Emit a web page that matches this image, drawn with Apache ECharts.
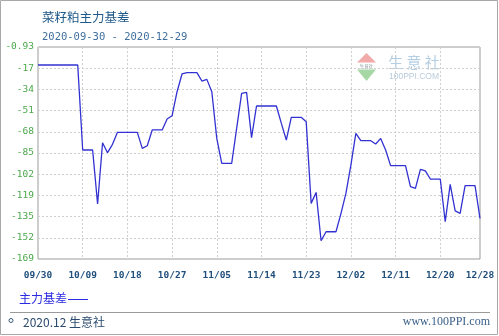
<!DOCTYPE html>
<html>
<head>
<meta charset="utf-8">
<script src="https://cdn.jsdelivr.net/npm/echarts@6/dist/echarts.min.js"></script>
<style>
html,body{margin:0;padding:0;background:#fff;}
#c{width:499px;height:336px;}
</style>
</head>
<body>
<div id="c"></div>
<script>
// ---- data ----
var titleText = '菜籽粕主力基差';
var subText = '2020-09-30 - 2020-12-29';
var seriesName = '主力基差';
// calendar day categories of the x axis (09/30 .. 12/28)
var startDay = '2020-09-30';
var endDay = '2020-12-28';
// tick labels of the y axis, bottom to top
var yLabels = ['-169', '-152', '-135', '-119', '-102', '-85', '-68', '-51', '-34', '-17', '-0.93'];
var yMin = -169.0;
var yMax = -0.93;
// dates of the line's vertices and their values
var pointDates = ['09/30','10/08','10/09','10/11','10/12','10/13','10/14','10/15','10/16','10/20',
  '10/21','10/22','10/23','10/25','10/26','10/27','10/28','10/29','10/30','11/01',
  '11/02','11/03','11/04','11/05','11/06','11/08','11/09','11/10','11/11','11/12',
  '11/13','11/17','11/18','11/19','11/20','11/22','11/23','11/24','11/25','11/26',
  '11/27','11/29','11/30','12/01','12/02','12/03','12/04','12/06','12/07','12/08',
  '12/09','12/10','12/13','12/14','12/15','12/16','12/17','12/18','12/20','12/21',
  '12/22','12/23','12/24','12/25','12/27','12/28'];
var pointValues = [-15.2,-15.2,-82.6,-82.6,-125.4,-76.8,-84.7,-78.1,-68.6,-68.6,
  -81.3,-79.2,-66.7,-66.7,-58.0,-55.4,-36.4,-22.3,-21.3,-21.3,
  -27.9,-26.6,-36.4,-73.4,-93.2,-93.2,-65.5,-37.7,-36.9,-72.8,
  -47.7,-47.7,-61.5,-74.7,-56.7,-56.7,-60.1,-124.9,-116.2,-154.5,
  -147.4,-147.4,-133.0,-117.0,-94.5,-69.4,-75.2,-75.2,-77.8,-73.4,
  -82.6,-95.0,-95.0,-111.7,-113.0,-98.0,-99.2,-105.6,-105.6,-139.4,
  -109.9,-130.9,-132.8,-110.9,-110.9,-136.8];

// ---- build categories ----
function pad(n){return (n<10?'0':'')+n;}
var days = [];
(function(){
  var d = new Date(startDay + 'T00:00:00Z');
  var e = new Date(endDay + 'T00:00:00Z');
  while (d <= e) {
    days.push(pad(d.getUTCMonth()+1) + '/' + pad(d.getUTCDate()));
    d = new Date(d.getTime() + 86400000);
  }
})();
var lastIdx = days.length - 1;
var yInterval = (yMax - yMin) / (yLabels.length - 1);

var chart = echarts.init(document.getElementById('c'), null, {renderer:'canvas'});
var option = {
  backgroundColor: '#fff',
  animation: false,
  grid: {left: 38, right: 19, top: 47, bottom: 77, show: true, borderColor: '#9a9a9a', borderWidth: 1, containLabel: false},
  title: [
    {text: titleText, left: 37, top: 6, textStyle: {fontFamily: 'Noto Sans CJK SC', fontSize: 12.5, fontWeight: 'normal', color: '#1f5a8a'}},
    {text: subText, left: 37, top: 27, textStyle: {fontFamily: 'DejaVu Sans Mono', fontSize: 10.5, fontWeight: 'normal', color: '#3f6f9c'}}
  ],
  xAxis: {
    type: 'category',
    data: days,
    boundaryGap: false,
    axisLine: {show: false},
    axisTick: {show: false},
    axisLabel: {
      interval: function(i){ return i % 9 === 0 || i === lastIdx; },
      margin: 12,
      fontFamily: 'DejaVu Sans Mono',
      fontSize: 9.5,
      fontWeight: 'bold',
      color: '#1f4f7c',
      showMaxLabel: true
    },
    splitLine: {
      show: true,
      interval: function(i){ return i % 9 === 0 || i === lastIdx; },
      lineStyle: {type: [2, 2], color: '#cfcfcf', width: 1}
    }
  },
  yAxis: {
    type: 'value',
    min: yMin,
    max: yMax,
    interval: yInterval,
    axisLine: {show: false},
    axisTick: {show: false},
    axisLabel: {
      margin: 4,
      fontFamily: 'DejaVu Sans Mono',
      fontSize: 9.5,
      color: '#4aa84a',
      showMinLabel: true,
      showMaxLabel: true,
      formatter: function(v){
        var k = Math.round((v - yMin) / yInterval);
        return yLabels[k] !== undefined ? yLabels[k] : '';
      }
    },
    splitLine: {show: true, lineStyle: {type: [2, 2], color: '#cfcfcf', width: 1}}
  },
  series: [{
    name: seriesName,
    type: 'line',
    data: pointDates.map(function(d, i){ return [d, pointValues[i]]; }),
    symbol: 'none',
    lineStyle: {color: '#3232d2', width: 1.3},
    z: 5
  }],
  graphic: [
    // outer frame
    {type: 'rect', shape: {x: 0.5, y: 0.5, width: 497, height: 334}, style: {fill: 'none', stroke: '#a8a8a8', lineWidth: 1}, silent: true},
    // watermark logo
    {type: 'polygon', shape: {points: [[366.5, 53], [357, 62.5], [376, 62.5]]}, style: {fill: '#f2a9a9'}, silent: true},
    {type: 'text', style: {x: 366.5, y: 66, text: '生意社', fontSize: 4.5, fill: '#8a9a9a', align: 'center', verticalAlign: 'middle', fontFamily: 'Noto Sans CJK SC'}, silent: true},
    {type: 'polygon', shape: {points: [[357, 69.5], [376, 69.5], [366.5, 81]]}, style: {fill: '#a6d8a6'}, silent: true},
    {type: 'text', style: {x: 414, y: 62, text: '生 意 社', fontSize: 15, fill: '#b3cde2', align: 'center', verticalAlign: 'middle', fontFamily: 'Noto Sans CJK SC'}, silent: true},
    {type: 'text', style: {x: 414, y: 77, text: '100PPI.COM', fontSize: 8.5, fill: '#b8cbdc', align: 'center', verticalAlign: 'middle', fontFamily: 'Liberation Sans'}, silent: true},
    // legend
    {type: 'text', style: {x: 19, y: 298.5, text: seriesName, fontSize: 12, fill: '#2a2ae0', align: 'left', verticalAlign: 'middle', fontFamily: 'Noto Sans CJK SC'}, silent: true},
    {type: 'line', shape: {x1: 68, y1: 299.5, x2: 88, y2: 299.5}, style: {stroke: '#2a2ae0', lineWidth: 1}, silent: true},
    // footer separator
    {type: 'line', shape: {x1: 10, y1: 312.5, x2: 490, y2: 312.5}, style: {stroke: '#9a9a9a', lineWidth: 1}, silent: true},
    // footer left
    {type: 'circle', shape: {cx: 11, cy: 320.5, r: 2}, style: {fill: 'none', stroke: '#3a5a7a', lineWidth: 1}, silent: true},
    {type: 'text', style: {x: 23, y: 322, text: '2020.12 生意社', fontSize: 12, fill: '#2b4b6e', align: 'left', verticalAlign: 'middle', fontFamily: 'Noto Sans CJK SC'}, silent: true},
    // footer right
    {type: 'text', style: {x: 490, y: 322, text: 'www.100PPI.com', fontSize: 12, fill: '#3a6088', align: 'right', verticalAlign: 'middle', fontFamily: 'Liberation Serif'}, silent: true}
  ]
};
chart.setOption(option);
</script>
</body>
</html>
